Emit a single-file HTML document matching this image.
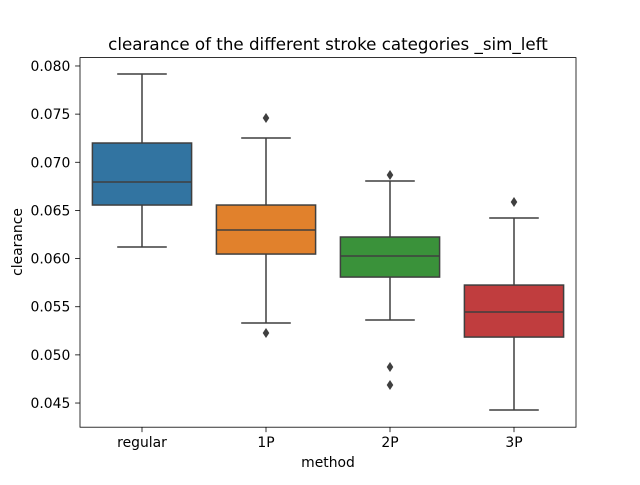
<!DOCTYPE html>
<html><head><meta charset="utf-8"><style>
body{margin:0;background:#fff;}
svg text{font-family:"DejaVu Sans","Liberation Sans",sans-serif;fill:#000;}
</style></head><body>
<svg id="chart" width="640" height="480" xmlns="http://www.w3.org/2000/svg">
<rect width="640" height="480" fill="#fff"/>
<text x="328" y="50" font-size="16.7" text-anchor="middle">clearance of the different stroke categories _sim_left</text>
<text x="328" y="467" font-size="13.9" text-anchor="middle">method</text>
<text x="0" y="0" font-size="13.9" text-anchor="middle" transform="translate(22,242) rotate(-90)">clearance</text>
<g id="plot"></g>
<rect x="80" y="57.6" width="496" height="369.6" fill="none" stroke="#000" stroke-width="0.8"/>
</svg>
<script>
const categories = ["regular","1P","2P","3P"];
const whiskerLow = [0.0612,0.05331,0.05362,0.04427];
const q1 = [0.06556,0.06047,0.05808,0.05185];
const medians = [0.06795,0.06297,0.06027,0.05445];
const q3 = [0.0720,0.06556,0.06224,0.05725];
const whiskerHigh = [0.07917,0.07252,0.06806,0.06421];
const outliers = [[],[0.0746,0.05227],[0.06868,0.04874,0.04687],[0.06587]];
const yTicks = [0.045,0.050,0.055,0.060,0.065,0.070,0.075,0.080];
const colors = ["#3274a1","#e1812c","#3a923a","#c03d3e"];

const L=80,R=576,T=57.6,B=427.2,yMin=0.04249,yMax=0.08087;
const NS="http://www.w3.org/2000/svg";
const g=document.getElementById('plot');
function y(v){return B-(v-yMin)/(yMax-yMin)*(B-T);}
function x(i){const bw=(R-L)/categories.length;return L+bw*(i+0.5);}
function mk(tag,attrs){const e=document.createElementNS(NS,tag);for(const k in attrs)e.setAttribute(k,attrs[k]);g.appendChild(e);return e;}
const bw=(R-L)/categories.length*0.8, lc="#3f3f3f";
yTicks.forEach(t=>{
  const tk=mk('line',{x1:L-4.9,x2:L,y1:y(t),y2:y(t),stroke:'#000','stroke-width':0.8});
  
  
  const tx=mk('text',{x:L-9.7,y:y(t)+5,'font-size':13.9,'text-anchor':'end'});
  tx.textContent=t.toFixed(3);
  
  
});
categories.forEach((c,i)=>{
  const cx=x(i);
  const tk=mk('line',{x1:cx,x2:cx,y1:B,y2:B+4.9,stroke:'#000','stroke-width':0.8});
  
  
  const tx=mk('text',{x:cx,y:B+20,'font-size':13.9,'text-anchor':'middle'});
  tx.textContent=c;
  
  
  const w1=mk('line',{x1:cx,x2:cx,y1:y(q3[i]),y2:y(whiskerHigh[i]),stroke:lc,'stroke-width':1.5});
  
  
  const w2=mk('line',{x1:cx,x2:cx,y1:y(q1[i]),y2:y(whiskerLow[i]),stroke:lc,'stroke-width':1.5});
  
  
  [whiskerHigh[i],whiskerLow[i]].forEach(v=>{
    const cap=mk('line',{x1:cx-bw/4,x2:cx+bw/4,y1:y(v),y2:y(v),stroke:lc,'stroke-width':1.5});
    
    
  });
  const box=mk('rect',{x:cx-bw/2,y:y(q3[i]),width:bw,height:y(q1[i])-y(q3[i]),fill:colors[i],stroke:lc,'stroke-width':1.5});
  
  
  const md=mk('line',{x1:cx-bw/2,x2:cx+bw/2,y1:y(medians[i]),y2:y(medians[i]),stroke:lc,'stroke-width':1.5});
  
  
  outliers[i].forEach(v=>{
    const yy=y(v);
    const o=mk('path',{d:`M${cx} ${yy-5}L${cx+3.3} ${yy}L${cx} ${yy+5}L${cx-3.3} ${yy}Z`,fill:lc});
    
    
  });
});
</script>
</body></html>
